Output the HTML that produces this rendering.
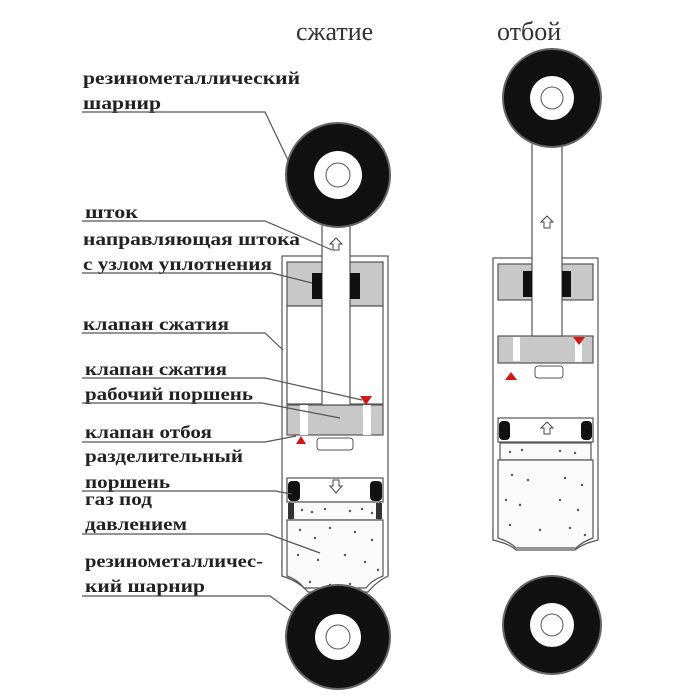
<!DOCTYPE html>
<html><head><meta charset="utf-8"><style>
html,body{margin:0;padding:0;background:#fff}
svg{display:block}
.l{font-family:"Liberation Serif",serif;font-weight:bold;font-size:18px;fill:#222}
.t{font-family:"Liberation Serif",serif;font-size:26px;fill:#333}
</style></head><body>
<svg width="700" height="700" viewBox="0 0 700 700" xmlns="http://www.w3.org/2000/svg">
<rect width="700" height="700" fill="#fff"/>
<text class="t" x="296" y="40">сжатие</text>
<text class="t" x="497" y="40">отбой</text>

<!-- LEFT SHOCK -->
<g stroke="#555" stroke-width="1.2">
<rect x="282" y="256" width="106" height="320" fill="#fff"/>
<path d="M282 560 L282 576 Q300 582 308 592 L368 592 Q376 582 388 576 L388 560" fill="#fff"/>
<rect x="287" y="262" width="96" height="44" fill="#c8c8c8"/>
<rect x="287" y="306" width="96" height="98" fill="#fff"/>
<rect x="287" y="405" width="96" height="30" fill="#c8c8c8"/>
<rect x="287" y="478" width="96" height="24" fill="#fff"/>
<rect x="290" y="502" width="90" height="18" fill="#fafafa"/>
<path d="M287 520 L383 520 L383 576 Q372 580 366 588 L304 588 Q298 580 287 576 Z" fill="#fafafa"/>
</g>
<rect x="322" y="200" width="28" height="205" fill="#fff" stroke="#555" stroke-width="1.2"/>
<rect x="312" y="273" width="10" height="26" fill="#111"/>
<rect x="350" y="273" width="10" height="26" fill="#111"/>
<rect x="300" y="405" width="8" height="30" fill="#fff"/>
<rect x="363" y="405" width="8" height="30" fill="#fff"/>
<rect x="317" y="438" width="36" height="12" rx="3" fill="#fff" stroke="#555"/>
<rect x="288" y="481" width="12" height="20" rx="4" fill="#111"/>
<rect x="370" y="481" width="12" height="20" rx="4" fill="#111"/>
<rect x="288" y="503" width="6" height="16" fill="#333"/>
<rect x="376" y="503" width="6" height="16" fill="#333"/>
<path d="M330 244 L336 238 L342 244 L339 244 L339 250 L333 250 L333 244 Z" fill="#fff" stroke="#444"/>
<path d="M330 486 L333 486 L333 480 L339 480 L339 486 L342 486 L336 493 Z" fill="#fff" stroke="#444"/>
<polygon points="360,396 372,396 366,405" fill="#d01818"/>
<polygon points="296,444 306,444 301,436" fill="#d01818"/>
<circle cx="338" cy="175" r="52" fill="#111" stroke="#666" stroke-width="2"/>
<circle cx="338" cy="175" r="24" fill="#fff"/>
<circle cx="338" cy="175" r="12" fill="#fff" stroke="#555"/>
<circle cx="338" cy="637" r="52" fill="#111" stroke="#666" stroke-width="2"/>
<circle cx="338" cy="637" r="23" fill="#fff"/>
<circle cx="338" cy="637" r="12" fill="#fff" stroke="#555"/>
<g fill="#555">
<circle cx="302" cy="510" r="1.2"/><circle cx="312" cy="512" r="1.2"/><circle cx="325" cy="509" r="1.2"/><circle cx="350" cy="511" r="1.2"/><circle cx="362" cy="509" r="1.2"/><circle cx="372" cy="513" r="1.2"/>
<circle cx="300" cy="530" r="1.2"/><circle cx="315" cy="538" r="1.2"/><circle cx="330" cy="528" r="1.2"/><circle cx="355" cy="532" r="1.2"/><circle cx="372" cy="540" r="1.2"/>
<circle cx="298" cy="555" r="1.2"/><circle cx="318" cy="560" r="1.2"/><circle cx="345" cy="555" r="1.2"/><circle cx="365" cy="562" r="1.2"/><circle cx="378" cy="570" r="1.2"/>
<circle cx="310" cy="582" r="1.2"/><circle cx="330" cy="585" r="1.2"/><circle cx="350" cy="584" r="1.2"/>
</g>

<!-- RIGHT SHOCK -->
<g stroke="#555" stroke-width="1.2">
<rect x="493" y="258" width="105" height="280" fill="#fff"/>
<path d="M493 530 L493 540 Q510 544 516 550 L575 550 Q582 544 598 540 L598 530" fill="#fff"/>
<rect x="498" y="264" width="95" height="36" fill="#c8c8c8"/>
<rect x="498" y="336" width="95" height="27" fill="#c8c8c8"/>
<rect x="498" y="418" width="95" height="24" fill="#fff"/>
<rect x="500" y="443" width="91" height="17" fill="#fafafa"/>
<path d="M498 460 L593 460 L593 538 Q582 542 576 548 L516 548 Q510 542 498 538 Z" fill="#fafafa"/>
</g>
<rect x="532" y="120" width="30" height="216" fill="#fff" stroke="#555" stroke-width="1.2"/>
<rect x="523" y="271" width="9" height="26" fill="#111"/>
<rect x="562" y="271" width="9" height="26" fill="#111"/>
<rect x="513" y="337" width="7" height="24" fill="#fff"/>
<rect x="575" y="340" width="7" height="22" fill="#fff"/>
<polygon points="573,337 585,337 579,345" fill="#d01818"/>
<polygon points="505,380 517,380 511,372" fill="#d01818"/>
<rect x="535" y="366" width="28" height="12" rx="3" fill="#fff" stroke="#555"/>
<rect x="499" y="421" width="11" height="19" rx="4" fill="#111"/>
<rect x="581" y="421" width="11" height="19" rx="4" fill="#111"/>
<path d="M541 222 L547 216 L553 222 L550 222 L550 228 L544 228 L544 222 Z" fill="#fff" stroke="#444"/>
<path d="M541 428 L547 422 L553 428 L550 428 L550 434 L544 434 L544 428 Z" fill="#fff" stroke="#444"/>
<circle cx="552" cy="98" r="49" fill="#111" stroke="#666" stroke-width="2"/>
<circle cx="552" cy="98" r="22" fill="#fff"/>
<circle cx="552" cy="98" r="11" fill="#fff" stroke="#555"/>
<circle cx="552" cy="625" r="49" fill="#111" stroke="#666" stroke-width="2"/>
<circle cx="552" cy="625" r="22" fill="#fff"/>
<circle cx="552" cy="625" r="11" fill="#fff" stroke="#555"/>
<g fill="#555">
<circle cx="510" cy="452" r="1.2"/><circle cx="522" cy="450" r="1.2"/><circle cx="560" cy="451" r="1.2"/><circle cx="575" cy="453" r="1.2"/>
<circle cx="512" cy="475" r="1.2"/><circle cx="528" cy="480" r="1.2"/><circle cx="565" cy="478" r="1.2"/><circle cx="582" cy="485" r="1.2"/>
<circle cx="506" cy="500" r="1.2"/><circle cx="520" cy="505" r="1.2"/><circle cx="560" cy="500" r="1.2"/><circle cx="578" cy="510" r="1.2"/>
<circle cx="510" cy="525" r="1.2"/><circle cx="540" cy="530" r="1.2"/><circle cx="570" cy="528" r="1.2"/><circle cx="585" cy="535" r="1.2"/>
</g>

<!-- LABELS -->
<text class="l" x="83" y="84" textLength="217" lengthAdjust="spacingAndGlyphs">резинометаллический</text>
<text class="l" x="83" y="109" textLength="78" lengthAdjust="spacingAndGlyphs">шарнир</text>
<text class="l" x="85" y="218" textLength="53" lengthAdjust="spacingAndGlyphs">шток</text>
<text class="l" x="83" y="245" textLength="217" lengthAdjust="spacingAndGlyphs">направляющая штока</text>
<text class="l" x="83" y="270" textLength="189" lengthAdjust="spacingAndGlyphs">с узлом уплотнения</text>
<text class="l" x="83" y="330" textLength="146" lengthAdjust="spacingAndGlyphs">клапан сжатия</text>
<text class="l" x="85" y="375" textLength="142" lengthAdjust="spacingAndGlyphs">клапан сжатия</text>
<text class="l" x="85" y="400" textLength="168" lengthAdjust="spacingAndGlyphs">рабочий поршень</text>
<text class="l" x="85" y="438" textLength="127" lengthAdjust="spacingAndGlyphs">клапан отбоя</text>
<text class="l" x="85" y="462" textLength="158" lengthAdjust="spacingAndGlyphs">разделительный</text>
<text class="l" x="85" y="488" textLength="85" lengthAdjust="spacingAndGlyphs">поршень</text>
<text class="l" x="85" y="505" textLength="67" lengthAdjust="spacingAndGlyphs">газ под</text>
<text class="l" x="85" y="530" textLength="102" lengthAdjust="spacingAndGlyphs">давлением</text>
<text class="l" x="85" y="567" textLength="178" lengthAdjust="spacingAndGlyphs">резинометалличес-</text>
<text class="l" x="85" y="592" textLength="120" lengthAdjust="spacingAndGlyphs">кий шарнир</text>
<g stroke="#555" stroke-width="1.2" fill="none">
<polyline points="82,112 265,112 288,160"/>
<polyline points="82,221 265,221 332,250"/>
<polyline points="82,273 272,273 312,283"/>
<polyline points="82,333 265,333 283,350"/>
<polyline points="82,378 265,378 362,400"/>
<polyline points="82,403 262,403 340,418"/>
<polyline points="82,442 265,442 296,436"/>
<polyline points="82,491 275,491 292,494"/>
<polyline points="82,534 268,534 320,553"/>
<polyline points="82,596 270,596 292,612"/>
</g>
</svg>
</body></html>
